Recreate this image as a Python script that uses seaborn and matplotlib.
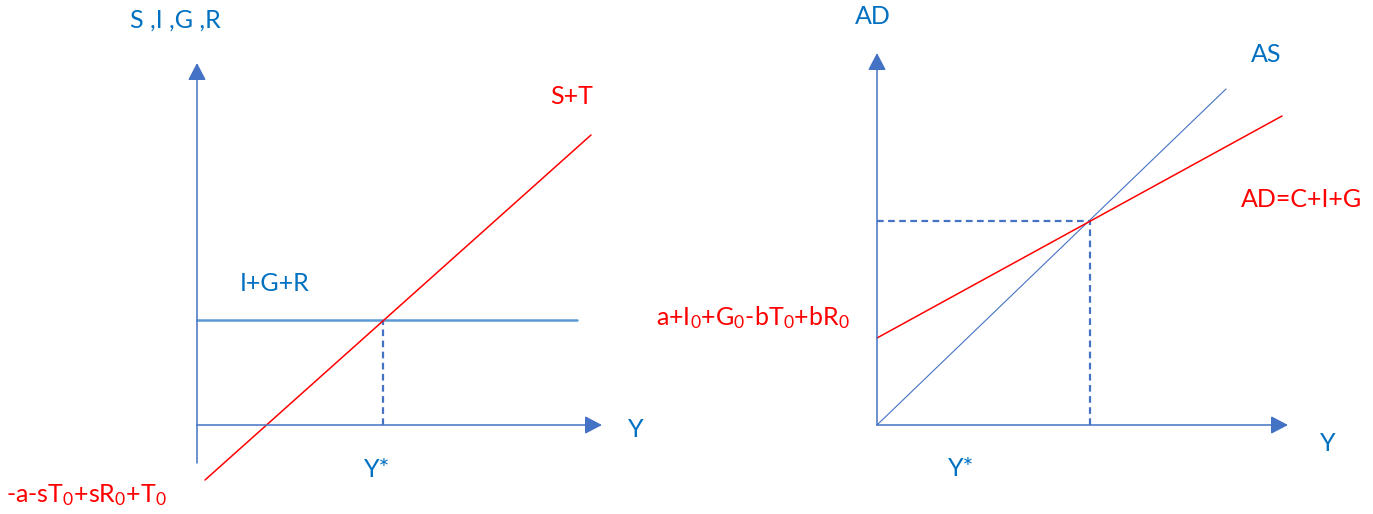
import matplotlib
matplotlib.use("Agg")
import matplotlib.pyplot as plt
import pandas as pd
import seaborn as sns

# units: 1 = 100 px, origin where the two axes cross

# left panel: leakages S+T vs injections I+G+R
st_y = [0.08, 3.94]
st_val = [-0.55, 2.90]
igr_y = [0.0, 3.80]
igr_val = [1.05, 1.05]
left_ystar = 1.86
left_xaxis = [0.0, 4.05]
left_yaxis = [-0.38, 3.62]

# right panel: AS (45 deg style line) vs AD = C+I+G
as_y = [0.0, 3.49]
as_val = [0.0, 3.36]
ad_y = [0.0, 4.05]
ad_val = [0.87, 3.09]
right_ystar = 2.13
right_adstar = 2.04
right_xaxis = [0.0, 4.11]
right_yaxis = [0.0, 3.72]

# labels (text, x, y, colour key)
left_labels = [
    ("S ,I ,G ,R", -0.22, 3.97, "blue"),
    ("S+T", 3.75, 3.21, "red"),
    ("I+G+R", 0.78, 1.34, "blue"),
    ("Y", 4.39, -0.12, "blue"),
    ("Y*", 1.80, -0.52, "blue"),
    (r"-a-sT$_0$+sR$_0$+T$_0$", -1.11, -0.77, "red"),
]
right_labels = [
    ("AD", -0.04, 4.01, "blue"),
    ("AS", 3.89, 3.63, "blue"),
    ("AD=C+I+G", 4.24, 2.18, "red"),
    (r"a+I$_0$+G$_0$-bT$_0$+bR$_0$", -1.24, 1.00, "red"),
    ("Y", 4.51, -0.26, "blue"),
    ("Y*", 0.84, -0.51, "blue"),
]

AXIS_BLUE = "#4472C4"
LIGHT_BLUE = "#5B9BD5"
TEXT_COLORS = {"blue": "#0070C0", "red": "#FF0000"}

sns.set_theme(style="white")
plt.rcParams["font.family"] = ["Lato", "DejaVu Sans"]
plt.rcParams["mathtext.default"] = "regular"


def line(ax, xs, ys, **kw):
    df = pd.DataFrame({"x": xs, "y": ys})
    sns.lineplot(data=df, x="x", y="y", ax=ax, estimator=None, sort=False, **kw)


def arrow_axis(ax, start, end):
    ax.annotate("", xy=end, xytext=start,
                arrowprops=dict(arrowstyle="-|>,head_length=1.05,head_width=0.55",
                                mutation_scale=10, color=AXIS_BLUE, lw=1.1,
                                shrinkA=0, shrinkB=0))


def finish(ax, labels, xlim):
    for txt, x, y, c in labels:
        ax.text(x, y, txt, color=TEXT_COLORS[c], fontsize=18,
                ha="center", va="baseline")
    ax.set_xlim(*xlim)
    ax.set_ylim(-0.89, 4.25)
    ax.set_axis_off()


fig = plt.figure(figsize=(13.73, 5.14), dpi=100)
ax1 = fig.add_axes([0, 0, 0.5, 1])
ax2 = fig.add_axes([0.5, 0, 0.5, 1])

# ---- left panel
arrow_axis(ax1, (0, left_yaxis[0]), (0, left_yaxis[1]))
arrow_axis(ax1, (left_xaxis[0], 0), (left_xaxis[1], 0))
line(ax1, igr_y, igr_val, color=LIGHT_BLUE, linewidth=1.8)
line(ax1, [left_ystar, left_ystar], [0, igr_val[0]], color=AXIS_BLUE,
     linewidth=1.6, linestyle=(0, (3, 2)))
line(ax1, st_y, st_val, color="#FF0000", linewidth=1.1)
finish(ax1, left_labels, (-1.97, 4.895))

# ---- right panel
arrow_axis(ax2, (0, right_yaxis[0]), (0, right_yaxis[1]))
arrow_axis(ax2, (right_xaxis[0], 0), (right_xaxis[1], 0))
line(ax2, [0, right_ystar], [right_adstar, right_adstar], color=AXIS_BLUE,
     linewidth=1.6, linestyle=(0, (3, 2)))
line(ax2, [right_ystar, right_ystar], [0, right_adstar], color=AXIS_BLUE,
     linewidth=1.6, linestyle=(0, (3, 2)))
line(ax2, as_y, as_val, color=AXIS_BLUE, linewidth=0.8)
line(ax2, ad_y, ad_val, color="#FF0000", linewidth=1.1)
finish(ax2, right_labels, (-1.905, 4.96))

fig.savefig("out.png", dpi=100)
